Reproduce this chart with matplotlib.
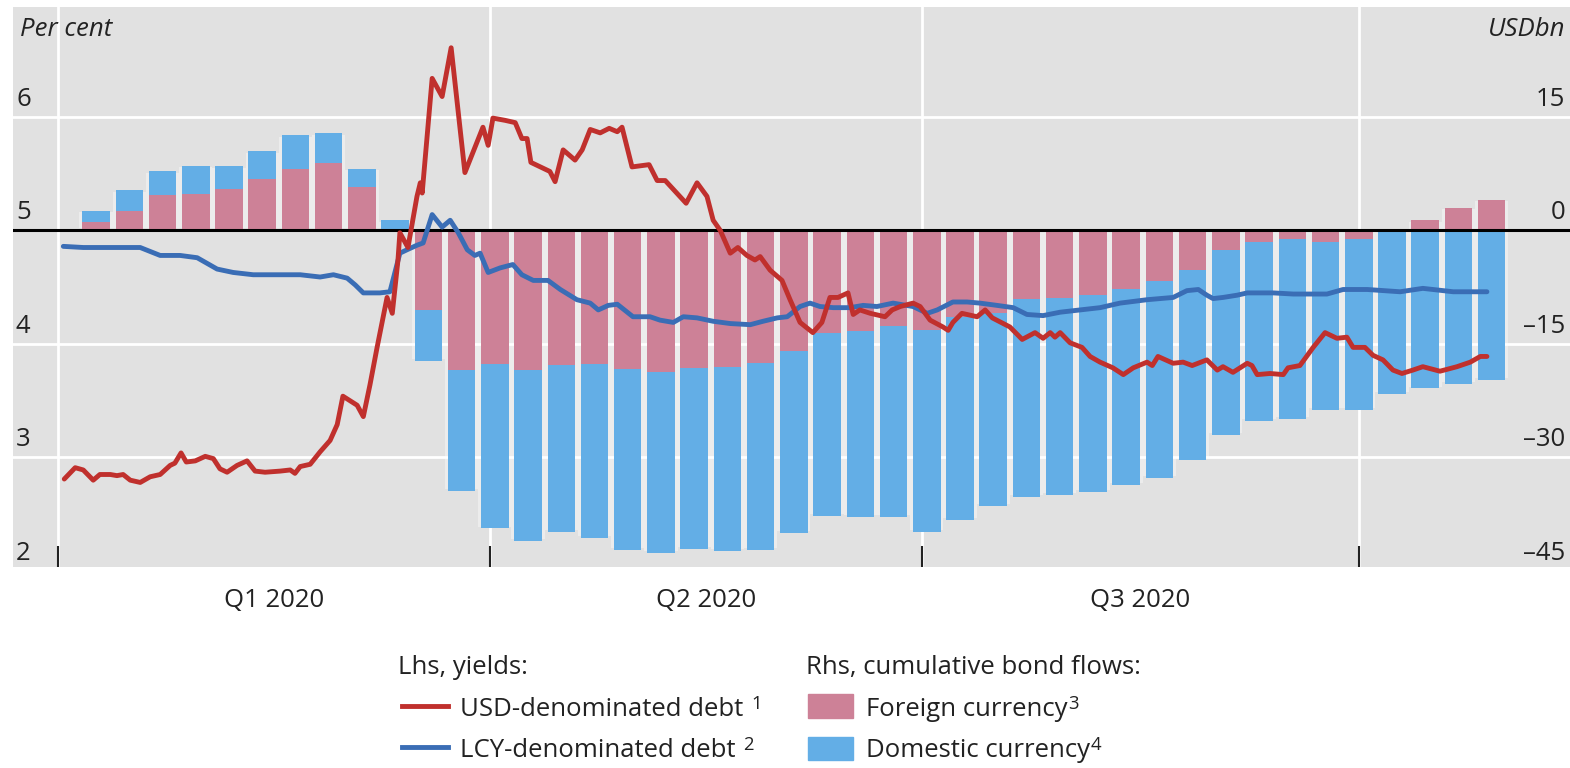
import numpy as np
import pandas as pd
import matplotlib
matplotlib.use('Agg')
import matplotlib.pyplot as plt
import matplotlib.font_manager as fm
from matplotlib.lines import Line2D
from matplotlib.patches import Rectangle

names = {f.name for f in fm.fontManager.ttflist}
if 'Liberation Sans Narrow' in names:
    FONT, FS = 'Liberation Sans Narrow', 21
else:
    FONT, FS = 'Open Sans', 18.5
plt.rcParams['font.family'] = FONT

# weekly cumulative bond flows, USDbn (rhs)
week_dates = pd.date_range('2020-01-09', periods=43, freq='7D')
foreign = [1.1, 2.6, 4.6, 4.85, 5.5, 6.8, 8.15, 8.85, 5.7, 0.0,
           -10.6, -18.5, -17.7, -18.5, -17.8, -17.7, -18.4, -18.7, -18.2, -18.1,
           -17.6, -16.0, -13.6, -13.35, -12.7, -13.2, -11.5, -11.0, -9.1, -9.0,
           -8.5, -7.7, -6.7, -5.2, -2.55, -1.55, -1.2, -1.55, -1.1, 0.0,
           1.3, 3.0, 4.05]
domestic = [1.5, 2.7, 3.2, 3.7, 3.0, 3.7, 4.4, 4.05, 2.45, 1.3,
            -6.7, -15.9, -21.7, -22.6, -22.1, -23.0, -23.8, -23.9, -23.9, -24.3,
            -24.7, -24.0, -24.1, -24.5, -25.2, -26.7, -26.8, -25.4, -26.2, -26.0,
            -26.1, -25.9, -26.0, -25.1, -24.55, -23.7, -23.7, -22.15, -22.6, -21.6,
            -20.9, -20.35, -19.8]

# yields, per cent (lhs); x = days since 1 Jan 2020
usd_days = [1.3, 3.6, 5.3, 7.4, 8.8, 11.0, 12.4, 13.7, 15.2, 17.3, 19.4, 21.5, 23.6, 24.6,
            25.9, 27.0, 28.9, 31.0, 32.7, 34.1, 35.6, 37.7, 39.8, 41.5, 43.6, 46.8, 48.9,
            49.9, 51.0, 53.1, 55.2, 57.3, 58.8, 60.0, 61.5, 63.0, 64.3, 65.7, 67.2, 69.3,
            70.4, 71.6, 72.0, 73.7, 75.6, 76.3, 76.7, 78.8, 80.9, 82.8, 85.7, 89.5, 90.6,
            91.6, 94.2, 96.3, 97.7, 98.8, 99.6, 103.6, 104.7, 106.4, 108.9, 110.4, 112.1,
            114.2, 116.1, 117.8, 118.8, 120.9, 124.5, 126.2, 127.9, 132.3, 134.6, 136.7,
            138.0, 139.5, 141.6, 143.2, 145.1, 146.8, 147.9, 150.0, 152.5, 154.2, 156.3,
            159.0, 160.9, 162.6, 164.3, 166.4, 167.5, 168.9, 171.1, 174.2, 175.7, 177.4,
            180.1, 181.6, 183.7, 186.4, 187.5, 188.5, 190.4, 193.6, 195.3, 196.8, 200.5,
            203.1, 205.8, 207.5, 209.0, 210.0, 211.1, 213.2, 215.7, 217.4, 219.5, 222.2,
            224.4, 226.5, 229.4, 230.5, 231.7, 234.9, 237.0, 238.9, 242.0, 244.2, 245.4,
            247.5, 250.5, 251.5, 252.6, 255.3, 258.1, 259.1, 261.6, 264.4, 266.9, 269.4,
            271.5, 272.8, 275.3, 277.0, 279.1, 281.2, 283.1, 285.4, 287.5, 291.1, 294.7,
            297.5, 299.6, 301.0]
usd_yield = [2.81, 2.91, 2.89, 2.80, 2.85, 2.85, 2.84, 2.85, 2.80, 2.78, 2.83, 2.85, 2.93, 2.95,
             3.04, 2.96, 2.97, 3.01, 2.99, 2.90, 2.87, 2.93, 2.97, 2.88, 2.87, 2.88, 2.89,
             2.86, 2.92, 2.94, 3.05, 3.15, 3.29, 3.54, 3.50, 3.46, 3.36, 3.64, 3.97, 4.41,
             4.27, 4.74, 4.98, 4.85, 5.30, 5.42, 5.33, 6.34, 6.18, 6.61, 5.51, 5.91, 5.75,
             5.99, 5.97, 5.95, 5.81, 5.81, 5.60, 5.52, 5.43, 5.71, 5.62, 5.71, 5.89,
             5.86, 5.90, 5.87, 5.91, 5.56, 5.58, 5.44, 5.44, 5.24, 5.42, 5.30,
             5.09, 5.00, 4.80, 4.85, 4.78, 4.74, 4.77, 4.65, 4.56, 4.39, 4.19,
             4.10, 4.19, 4.41, 4.41, 4.45, 4.26, 4.30, 4.27, 4.24, 4.30, 4.33,
             4.36, 4.33, 4.21, 4.15, 4.12, 4.19, 4.27, 4.24, 4.30, 4.23, 4.15,
             4.04, 4.10, 4.05, 4.10, 4.06, 4.10, 4.01, 3.97, 3.89, 3.84, 3.79,
             3.73, 3.79, 3.84, 3.81, 3.89, 3.83, 3.84, 3.81, 3.86, 3.77, 3.80,
             3.75, 3.83, 3.81, 3.73, 3.74, 3.73, 3.79, 3.81, 3.97, 4.10, 4.05,
             4.06, 3.97, 3.97, 3.90, 3.86, 3.77, 3.74, 3.77, 3.80, 3.76, 3.80,
             3.84, 3.89, 3.89]
lcy_days = [1.1, 5.3, 10.3, 13.1, 17.3, 21.5, 25.7, 29.3, 33.5, 36.9, 41.1, 46.2, 51.0, 55.2,
            58.0, 60.9, 62.6, 64.3, 67.8, 69.9, 72.0, 73.5, 75.6, 76.9, 78.8, 80.9, 82.6,
            84.3, 86.2, 87.8, 88.9, 90.6, 93.1, 95.8, 97.7, 100.1, 103.2, 105.8, 109.3,
            112.1, 113.8, 115.9, 117.8, 121.1, 124.7, 126.8, 129.6, 131.7, 134.6, 138.0,
            141.6, 145.8, 148.5, 151.5, 153.6, 156.3, 158.4, 160.5, 163.3, 166.8, 169.6,
            172.5, 175.9, 180.1, 183.1, 185.2, 188.5, 191.5, 194.2, 197.8, 201.2, 204.1,
            207.5, 211.1, 215.3, 219.5, 223.7, 229.4, 234.9, 237.8, 240.2, 242.0, 243.3,
            245.4, 248.4, 250.5, 256.0, 260.2, 267.3, 270.7, 275.8, 282.7, 287.5, 293.9,
            301.0]
lcy_yield = [4.86, 4.85, 4.85, 4.85, 4.85, 4.78, 4.78, 4.76, 4.66, 4.63, 4.61, 4.61, 4.61, 4.59,
             4.61, 4.58, 4.52, 4.45, 4.45, 4.46, 4.80, 4.83, 4.87, 4.89, 5.14, 5.03, 5.09,
             4.98, 4.83, 4.78, 4.80, 4.63, 4.67, 4.70, 4.61, 4.56, 4.56, 4.48, 4.39,
             4.36, 4.30, 4.34, 4.35, 4.24, 4.24, 4.21, 4.19, 4.24, 4.23, 4.20,
             4.18, 4.17, 4.20, 4.23, 4.24, 4.33, 4.36, 4.33, 4.32, 4.32, 4.34,
             4.33, 4.36, 4.33, 4.27, 4.30, 4.37, 4.37, 4.36, 4.34, 4.32, 4.26,
             4.25, 4.28, 4.30, 4.32, 4.36, 4.39, 4.41, 4.47, 4.48, 4.43, 4.40,
             4.41, 4.43, 4.45, 4.45, 4.44, 4.44, 4.48, 4.48, 4.46, 4.49, 4.46,
             4.46]

quarter_starts = pd.to_datetime(['2020-01-01', '2020-04-01', '2020-07-01', '2020-10-01'])
quarter_labels = ['Q1 2020', 'Q2 2020', 'Q3 2020']
lhs_ticks = [2, 3, 4, 5, 6]
rhs_ticks = [-45, -30, -15, 0, 15]

PINK = '#cd8197'
SKY = '#63aee6'
RED = '#c0302d'
NAVY = '#3a6db5'
BG = '#e1e1e1'
INK = '#222222'

t0 = pd.Timestamp('2020-01-01')
bar_x = np.array((week_dates - t0).days, dtype=float)
q_x = np.array((quarter_starts - t0).days, dtype=float)
f = np.array(foreign)
d = np.array(domestic)

W, H = 1570, 768
fig = plt.figure(figsize=(W / 100, H / 100), dpi=100)
ax = fig.add_axes([13 / W, 1 - 567 / H, 1557 / W, 560 / H])
ax.set_facecolor(BG)
ax.set_xlim(-9.5, 318.5)
ax.set_ylim(-44.5, 29.5)
for s in ax.spines.values():
    s.set_visible(False)
ax.set_yticks([])

# gridlines
for v in rhs_ticks:
    if v != 0:
        ax.axhline(v, color='white', lw=2, zorder=1)
for q in q_x:
    ax.axvline(q, color='white', lw=2, zorder=1)

# light bands that show in the gaps between bars
lo = np.minimum(f, 0) + np.minimum(d, 0)
hi = np.maximum(f, 0) + np.maximum(d, 0)
ax.bar(bar_x, hi - lo - 0.5, bottom=lo + 0.25, width=7, color='#ececec', zorder=0.5)

blue_bottom = np.where(f * d > 0, f, 0)
ax.bar(bar_x, f, width=5.8, color=PINK, zorder=2)
ax.bar(bar_x, d, bottom=blue_bottom, width=5.8, color=SKY, zorder=2)
ax.axhline(0, color='black', lw=2.2, zorder=3)

# x axis: quarter boundaries + centred quarter labels
ax.set_xticks(q_x)
ax.set_xticklabels([])
ax.tick_params(axis='x', which='major', direction='in', length=15, width=1.5, color=INK)
mids = (q_x[:-1] + q_x[1:]) / 2
ax.set_xticks(mids, minor=True)
ax.set_xticklabels(quarter_labels, minor=True, fontsize=FS)
ax.tick_params(axis='x', which='minor', length=0, pad=15, labelcolor=INK)

# lines on the per-cent scale
ax2 = ax.twinx()
ax2.set_ylim(2.035, 6.969)
ax2.set_axis_off()
ax2.plot(lcy_days, lcy_yield, color=NAVY, lw=3.5, solid_joinstyle='round', solid_capstyle='round')
ax2.plot(usd_days, usd_yield, color=RED, lw=3.5, solid_joinstyle='round', solid_capstyle='round')

# tick labels inside the plot
for v in lhs_ticks:
    ax2.annotate(str(v), xy=(0, v), xycoords=ax2.get_yaxis_transform(),
                 xytext=(3, 11), textcoords='offset pixels',
                 ha='left', va='baseline', fontsize=FS, color=INK)
for v in rhs_ticks:
    ax.annotate(str(v).replace('-', '\u2013'), xy=(1, v), xycoords=ax.get_yaxis_transform(),
                xytext=(-5, 11), textcoords='offset pixels',
                ha='right', va='baseline', fontsize=FS, color=INK)
fig.text(20 / W, 1 - 36 / H, 'Per cent', style='italic', fontsize=FS, color=INK)
fig.text(1565 / W, 1 - 36 / H, 'USDbn', style='italic', ha='right', fontsize=FS, color=INK)


# legend, drawn by hand
def sup(t, s, dx):
    ax.annotate(s, xy=(1, 1), xycoords=t, xytext=(dx, 2), textcoords='offset pixels',
                ha='left', va='top', fontsize=FS * 0.72, color=INK, annotation_clip=False)


fig.text(398 / W, 1 - 674 / H, 'Lhs, yields:', fontsize=FS, color=INK)
fig.add_artist(Line2D([402 / W, 448 / W], [1 - 706 / H] * 2, transform=fig.transFigure,
                      color=RED, lw=3.5))
t1 = fig.text(460 / W, 1 - 716 / H, 'USD-denominated debt', fontsize=FS, color=INK)
sup(t1, '1', 8)
fig.add_artist(Line2D([402 / W, 448 / W], [1 - 747 / H] * 2, transform=fig.transFigure,
                      color=NAVY, lw=3.5))
t2 = fig.text(460 / W, 1 - 757 / H, 'LCY-denominated debt', fontsize=FS, color=INK)
sup(t2, '2', 8)

fig.text(806 / W, 1 - 674 / H, 'Rhs, cumulative bond flows:', fontsize=FS, color=INK)
fig.add_artist(Rectangle((808 / W, 1 - 718 / H), 45 / W, 24 / H, transform=fig.transFigure,
                         color=PINK))
t3 = fig.text(866 / W, 1 - 716 / H, 'Foreign currency', fontsize=FS, color=INK)
sup(t3, '3', 1)
fig.add_artist(Rectangle((808 / W, 1 - 760 / H), 45 / W, 23 / H, transform=fig.transFigure,
                         color=SKY))
t4 = fig.text(866 / W, 1 - 757 / H, 'Domestic currency', fontsize=FS, color=INK)
sup(t4, '4', 1)

fig.savefig('out.png', dpi=100)
